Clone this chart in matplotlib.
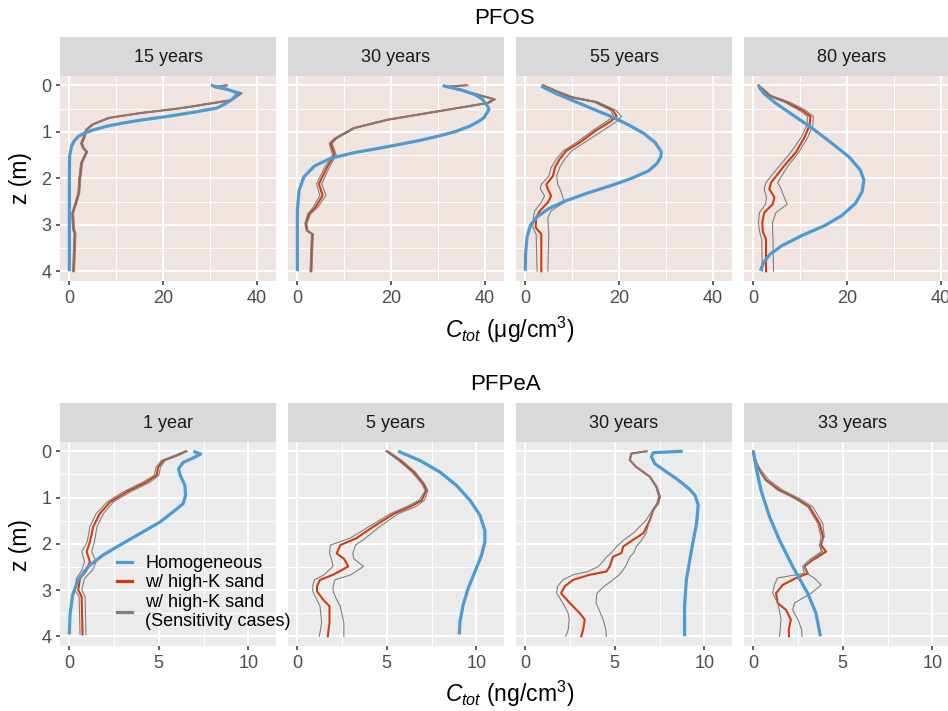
import matplotlib
matplotlib.use("Agg")
import matplotlib.pyplot as plt
from matplotlib.lines import Line2D

plt.rcParams["font.family"] = ["Liberation Sans", "DejaVu Sans"]
plt.rcParams["mathtext.fontset"] = "custom"
plt.rcParams["mathtext.rm"] = "Liberation Sans"
plt.rcParams["mathtext.it"] = "Liberation Sans:italic"

# ---------------- data (z in m, concentration per panel) ----------------
# PFOS, 15 years
pfos15_zb = [0, 0.08, 0.17, 0.3, 0.4, 0.49, 0.58, 0.67, 0.74, 0.81, 0.88, 0.96, 1.03, 1.1, 1.2, 1.32,
             1.53, 2.0, 4.0]
pfos15_blue = [30.2, 33.5, 36.0, 34.8, 33.2, 31.5, 26.5, 20.9, 15.8, 11.5, 8.0, 5.1, 3.2, 1.9, 1.0, 0.45,
               0.05, 0.0, 0.0]
pfos15_zk = [0, 0.04, 0.1, 0.17, 0.32, 0.49, 0.6, 0.7, 0.84, 0.96, 1.1, 1.25, 1.35, 1.43, 1.67,
             2.03, 2.32, 2.53, 2.75, 2.95, 3.1, 3.18, 4.0]
pfos15_red = [33.5, 31.0, 34.0, 36.6, 34.5, 24.0, 15.0, 8.5, 5.0, 3.6, 3.2, 2.6, 3.0, 3.7, 2.6,
              2.2, 2.0, 1.4, 0.7, 0.8, 0.9, 1.2, 0.9]
pfos15_gray_hi = [33.0, 30.8, 34.3, 36.9, 34.8, 24.5, 15.4, 8.8, 5.2, 3.8, 3.4, 2.8, 3.2, 3.9, 2.8,
                  2.4, 2.2, 1.6, 0.9, 1.0, 1.1, 1.4, 1.1]
pfos15_gray_lo = [33.8, 31.2, 33.8, 36.4, 34.2, 23.6, 14.6, 8.2, 4.8, 3.4, 3.0, 2.4, 2.8, 3.5, 2.4,
                  2.0, 1.8, 1.2, 0.5, 0.6, 0.7, 1.0, 0.7]

# PFOS, 30 years
pfos30_zb = [0, 0.02, 0.1, 0.2, 0.3, 0.45, 0.52, 0.6, 0.7, 0.78, 0.88, 1.0, 1.09, 1.18, 1.32, 1.45,
             1.57, 1.74, 1.97, 2.26, 2.7, 4.0]
pfos30_blue = [31.0, 31.5, 35.0, 37.9, 39.5, 40.6, 40.9, 40.4, 39.8, 38.6, 36.8, 33.6, 30.2, 26.4,
               19.3, 12.1, 7.1, 3.6, 1.4, 0.36, 0.0, 0.0]
pfos30_zk = [0, 0.03, 0.12, 0.3, 0.38, 0.56, 0.74, 0.92, 1.14, 1.25, 1.5, 1.75, 2.12, 2.37, 2.62,
             2.77, 2.98, 3.13, 3.2, 4.0]
pfos30_red = [36.0, 31.8, 35.5, 42.0, 40.7, 30.0, 19.3, 12.1, 8.2, 7.1, 7.9, 6.4, 4.6, 5.4, 3.9,
              2.5, 1.8, 2.1, 3.2, 2.9]
pfos30_gray_hi = [36.5, 32.0, 35.8, 42.3, 41.0, 30.4, 19.7, 12.4, 8.5, 7.4, 8.3, 6.9, 5.2, 6.1, 4.4,
                  2.8, 2.0, 2.3, 3.4, 3.1]
pfos30_gray_lo = [35.5, 31.5, 35.2, 41.7, 40.4, 29.6, 18.9, 11.8, 7.9, 6.8, 7.5, 5.9, 4.1, 4.8, 3.4,
                  2.2, 1.6, 1.9, 3.0, 2.7]

# PFOS, 55 years
pfos55_zb = [0.02, 0.17, 0.32, 0.5, 0.68, 0.85, 1.03, 1.23, 1.43, 1.54, 1.68, 1.84, 2.0, 2.15, 2.31,
             2.49, 2.65, 2.83, 3.01, 3.26, 3.63, 3.99]
pfos55_blue = [3.4, 6.4, 9.9, 14.2, 18.5, 22.0, 25.2, 27.7, 29.0, 28.9, 28.1, 26.3, 22.7, 18.5, 13.5,
               8.5, 5.0, 2.5, 1.1, 0.36, 0.05, 0.0]
pfos55_zk = [0.0, 0.25, 0.36, 0.54, 0.67, 0.79, 0.97, 1.23, 1.41, 1.59, 1.77, 1.95, 2.13, 2.23, 2.38,
             2.52, 2.7, 2.85, 3.06, 3.2, 4.0]
pfos55_red = [3.8, 9.4, 15.1, 18.7, 19.5, 18.0, 15.1, 11.6, 8.7, 7.3, 6.3, 5.9, 4.5, 4.8, 5.5,
              4.8, 3.1, 2.3, 2.2, 3.4, 3.4]
pfos55_gray_hi = [3.6, 10.2, 15.5, 19.4, 20.5, 19.3, 16.6, 12.6, 9.9, 8.4, 7.3, 6.7, 6.9, 7.4, 7.9,
                  8.3, 5.5, 4.8, 4.9, 5.0, 4.8]
pfos55_gray_lo = [3.5, 8.9, 14.6, 18.2, 18.9, 17.1, 14.4, 10.9, 8.1, 6.6, 5.5, 5.0, 3.4, 3.2, 4.1,
                  3.4, 2.0, 1.7, 1.6, 2.3, 2.5]

# PFOS, 80 years
pfos80_zb = [0.02, 0.17, 0.38, 0.63, 0.92, 1.25, 1.54, 1.82, 2.04, 2.29, 2.54, 2.8, 3.01, 3.23, 3.45,
             3.63, 3.81, 3.99]
pfos80_blue = [1.1, 2.2, 4.7, 8.3, 12.5, 16.8, 20.4, 22.8, 23.6, 23.2, 21.8, 18.9, 15.4, 10.4, 6.1,
               3.6, 2.2, 1.5]
pfos80_zk = [0.0, 0.22, 0.36, 0.54, 0.67, 0.86, 1.12, 1.44, 1.73, 1.91, 2.09, 2.23, 2.41, 2.56,
             2.74, 2.95, 3.14, 3.32, 4.0]
pfos80_red = [1.1, 3.4, 7.0, 10.5, 12.2, 12.0, 10.9, 9.1, 6.6, 5.2, 3.8, 3.4, 4.5, 4.1,
              2.3, 1.9, 2.0, 2.7, 2.7]
pfos80_gray_hi = [1.2, 3.8, 7.7, 11.2, 12.8, 12.7, 11.6, 9.7, 7.4, 6.3, 5.2, 5.9, 6.6, 7.2,
                  4.8, 4.1, 4.1, 4.2, 4.3]
pfos80_gray_lo = [1.0, 3.0, 6.6, 9.8, 11.6, 11.4, 10.2, 8.0, 5.6, 4.1, 2.7, 2.3, 2.8, 2.6,
                  1.3, 1.1, 1.3, 1.8, 1.9]

# PFPeA, 1 year
pfpea1_zb = [0.0, 0.06, 0.13, 0.24, 0.38, 0.52, 0.74, 0.95, 1.13, 1.31, 1.53, 1.74, 1.99, 2.24, 2.49,
             2.78, 3.1, 3.53, 3.96]
pfpea1_blue = [6.93, 7.34, 7.0, 6.37, 6.1, 6.2, 6.46, 6.5, 6.37, 5.8, 5.07, 4.13, 3.0, 1.9, 1.06,
               0.5, 0.19, 0.04, 0.0]
pfpea1_zk = [0.0, 0.09, 0.2, 0.34, 0.52, 0.67, 0.88, 1.1, 1.35, 1.63, 1.96, 2.17, 2.39, 2.57,
             2.75, 3.0, 3.14, 3.96]
pfpea1_red = [6.52, 6.0, 5.25, 4.97, 4.88, 4.3, 3.2, 2.27, 1.7, 1.34, 1.15, 0.97, 1.15, 0.97,
              0.6, 0.5, 0.69, 0.74]
pfpea1_gray_hi = [6.6, 6.1, 5.35, 5.1, 5.0, 4.5, 3.4, 2.45, 1.9, 1.55, 1.4, 1.25, 1.5, 1.3,
                  0.85, 0.7, 0.88, 0.93]
pfpea1_gray_lo = [6.45, 5.9, 5.15, 4.85, 4.75, 4.1, 3.0, 2.1, 1.5, 1.15, 1.0, 0.7, 0.85, 0.7,
                  0.4, 0.3, 0.55, 0.6]

# PFPeA, 5 years
pfpea5_zb = [0.0, 0.2, 0.45, 0.74, 1.06, 1.38, 1.71, 1.96, 2.24, 2.6, 2.96, 3.32, 3.68, 3.96]
pfpea5_blue = [5.64, 6.85, 7.97, 8.9, 9.65, 10.2, 10.48, 10.48, 10.3, 9.93, 9.55, 9.27, 9.09, 9.05]
pfpea5_zk = [0.0, 0.2, 0.45, 0.7, 0.85, 1.06, 1.2, 1.35, 1.63, 1.88, 2.03, 2.21, 2.32, 2.49,
             2.67, 2.78, 2.92, 3.03, 3.21, 3.35, 3.71, 4.0]
pfpea5_red = [5.0, 5.75, 6.5, 7.05, 7.2, 6.95, 6.3, 5.4, 4.25, 3.3, 2.4, 2.2, 2.6, 2.85,
              2.0, 1.27, 1.1, 1.1, 1.45, 1.8, 1.8, 1.7]
pfpea5_gray_hi = [5.1, 5.85, 6.6, 7.1, 7.3, 7.1, 6.6, 5.65, 4.6, 3.8, 3.25, 3.1, 3.15, 3.7,
                  3.0, 2.1, 2.0, 2.0, 2.2, 2.4, 2.6, 2.6]
pfpea5_gray_lo = [4.95, 5.65, 6.4, 6.95, 7.15, 6.8, 6.1, 5.2, 4.0, 2.95, 1.85, 1.8, 1.9, 2.0,
                  1.5, 0.95, 0.86, 0.86, 1.1, 1.27, 1.36, 1.23]

# PFPeA, 30 years
pfpea30_zb = [0.0, 0.03, 0.12, 0.27, 0.45, 0.58, 0.7, 0.83, 0.95, 1.16, 1.56, 2.13, 2.78, 3.35, 4.0]
pfpea30_blue = [8.8, 7.15, 7.05, 7.24, 7.9, 8.4, 8.8, 9.2, 9.48, 9.66, 9.57, 9.29, 9.0, 8.9, 8.9]
pfpea30_zk = [0.0, 0.05, 0.19, 0.34, 0.55, 0.77, 0.98, 1.13, 1.27, 1.49, 1.77, 1.92, 2.06, 2.2,
              2.28, 2.49, 2.6, 2.67, 2.78, 2.92, 3.07, 3.28, 3.5, 3.64, 3.86, 4.0]
pfpea30_red = [6.77, 5.93, 5.84, 6.2, 6.96, 7.33, 7.5, 7.4, 7.15, 6.96, 6.6, 6.0, 5.47, 5.37,
               4.9, 4.72, 4.53, 3.6, 2.67, 2.2, 2.0, 2.48, 3.04, 3.32, 3.23, 3.13]
pfpea30_gray_hi = [6.8, 5.95, 5.86, 6.22, 6.98, 7.36, 7.55, 7.45, 7.15, 6.95, 6.75, 6.5, 6.2, 6.05,
                   5.85, 5.6, 5.4, 5.25, 4.9, 4.4, 4.0, 3.95, 4.2, 4.35, 4.5, 4.53]
pfpea30_gray_lo = [6.75, 5.9, 5.82, 6.18, 6.94, 7.3, 7.45, 7.35, 7.1, 6.75, 6.03, 5.5, 5.1, 4.8,
                   4.55, 4.1, 3.5, 2.67, 2.1, 1.8, 1.75, 2.1, 2.39, 2.45, 2.4, 2.26]

# PFPeA, 33 years
pfpea33_zb = [0.0, 0.34, 0.84, 1.41, 1.92, 2.49, 3.07, 3.5, 4.0]
pfpea33_blue = [0.0, 0.15, 0.43, 0.9, 1.46, 2.2, 3.04, 3.5, 3.75]
pfpea33_zk = [0.0, 0.19, 0.41, 0.62, 0.84, 1.02, 1.2, 1.56, 1.85, 2.03, 2.17, 2.35, 2.49, 2.64,
              2.74, 2.89, 3.07, 3.28, 3.43, 3.64, 3.86, 4.0]
pfpea33_red = [0.0, 0.06, 0.34, 0.7, 1.46, 2.39, 3.13, 3.7, 3.9, 3.79, 4.07, 3.32, 2.85, 3.04,
               2.39, 1.64, 1.27, 1.36, 1.83, 2.1, 1.98, 2.0]
pfpea33_gray_hi = [0.0, 0.1, 0.43, 0.86, 1.64, 2.57, 3.32, 3.88, 3.97, 3.7, 3.88, 3.23, 2.85, 3.0,
                   3.4, 3.79, 3.23, 2.3, 2.2, 2.5, 2.7, 2.72]
pfpea33_gray_lo = [0.0, 0.15, 0.34, 0.65, 1.36, 2.3, 3.04, 3.6, 3.79, 3.7, 3.8, 3.13, 2.76, 2.85,
                   1.35, 1.18, 1.08, 1.36, 1.45, 1.55, 1.5, 1.46]

pfos_labels = ["15 years", "30 years", "55 years", "80 years"]
pfpea_labels = ["1 year", "5 years", "30 years", "33 years"]
legend_labels = ["Homogeneous", "w/ high-K sand", "w/ high-K sand\n(Sensitivity cases)"]

pfos_panels = [
    (pfos15_zb, pfos15_blue, pfos15_zk, pfos15_red, pfos15_gray_lo, pfos15_gray_hi),
    (pfos30_zb, pfos30_blue, pfos30_zk, pfos30_red, pfos30_gray_lo, pfos30_gray_hi),
    (pfos55_zb, pfos55_blue, pfos55_zk, pfos55_red, pfos55_gray_lo, pfos55_gray_hi),
    (pfos80_zb, pfos80_blue, pfos80_zk, pfos80_red, pfos80_gray_lo, pfos80_gray_hi),
]
pfpea_panels = [
    (pfpea1_zb, pfpea1_blue, pfpea1_zk, pfpea1_red, pfpea1_gray_lo, pfpea1_gray_hi),
    (pfpea5_zb, pfpea5_blue, pfpea5_zk, pfpea5_red, pfpea5_gray_lo, pfpea5_gray_hi),
    (pfpea30_zb, pfpea30_blue, pfpea30_zk, pfpea30_red, pfpea30_gray_lo, pfpea30_gray_hi),
    (pfpea33_zb, pfpea33_blue, pfpea33_zk, pfpea33_red, pfpea33_gray_lo, pfpea33_gray_hi),
]

BLUE = "#4C9BD5"
RED = "#D23C0C"
GRAY = "#808080"

W, H = 948, 711
fig = plt.figure(figsize=(W / 100, H / 100), dpi=100)


def box(x, y, w, h):
    # pixel box measured from the top-left corner
    return [x / W, 1 - (y + h) / H, w / W, h / H]


def draw_row(panels, labels, strip_y, panel_y, panel_h, bg, xlim, xmajor, xminor):
    axes = []
    for i, (zb, blue, zk, red, glo, ghi) in enumerate(panels):
        left = 60 + i * 228
        strip = fig.add_axes(box(left, strip_y, 216, panel_y - strip_y))
        strip.set_facecolor("#D9D9D9")
        strip.set_xticks([])
        strip.set_yticks([])
        for s in strip.spines.values():
            s.set_visible(False)
        strip.text(0.5, 0.48, labels[i], ha="center", va="center", fontsize=13, color="#1A1A1A",
                   transform=strip.transAxes)

        ax = fig.add_axes(box(left, panel_y, 216, panel_h))
        ax.set_facecolor(bg)
        for s in ax.spines.values():
            s.set_visible(False)

        ax.plot(red, zk, color=RED, lw=1.5, zorder=3)
        ax.plot(glo, zk, color=GRAY, lw=0.8, zorder=4)
        ax.plot(ghi, zk, color=GRAY, lw=0.8, zorder=4)
        ax.plot(blue, zb, color=BLUE, lw=2.3, zorder=5, solid_capstyle="butt",
                solid_joinstyle="round")

        ax.set_xlim(*xlim)
        ax.set_ylim(4.21, -0.2)
        ax.set_xticks(xmajor)
        ax.set_xticks(xminor, minor=True)
        ax.set_yticks([0, 1, 2, 3, 4])
        ax.set_yticks([0.5, 1.5, 2.5, 3.5], minor=True)
        ax.grid(which="major", color="white", lw=1.4)
        ax.grid(which="minor", color="white", lw=0.7)
        ax.set_axisbelow(True)
        ax.tick_params(which="major", length=3.2, width=1.1, color="#333333",
                       labelsize=13, labelcolor="#4D4D4D", pad=3)
        ax.tick_params(which="minor", length=0)
        if i > 0:
            ax.tick_params(axis="y", left=False, labelleft=False)
        axes.append(ax)
    return axes


top_axes = draw_row(pfos_panels, pfos_labels, 37, 76, 205, "#EFE4E0",
                    (-2.0, 44.1), [0, 20, 40], [10, 30])
bot_axes = draw_row(pfpea_panels, pfpea_labels, 403, 442, 204, "#EBEBEB",
                    (-0.52, 11.55), [0, 5, 10], [2.5, 7.5])

fig.text(504 / W, 1 - 18 / H, "PFOS", ha="center", va="center", fontsize=16)
fig.text(505 / W, 1 - 385 / H, "PFPeA", ha="center", va="center", fontsize=16)
fig.text(510 / W, 1 - 330 / H, r"$C_{tot}$ (μg/cm$^3$)", ha="center", va="center", fontsize=16.5)
fig.text(510 / W, 1 - 694 / H, r"$C_{tot}$ (ng/cm$^3$)", ha="center", va="center", fontsize=16.5)
fig.text(20 / W, 1 - 178 / H, "z (m)", ha="center", va="center", rotation=90, fontsize=16.5)
fig.text(20 / W, 1 - 545 / H, "z (m)", ha="center", va="center", rotation=90, fontsize=16.5)

# legend sits in the first lower panel; its last line runs over into the gap
bot_axes[0].set_zorder(10)
handles = [Line2D([], [], color=BLUE, lw=2.3),
           Line2D([], [], color=RED, lw=2.3),
           Line2D([], [], color=GRAY, lw=2.3)]
bot_axes[0].legend(handles, legend_labels, loc="upper left", bbox_to_anchor=(0.262, 0.445),
                   frameon=False, fontsize=13, handlelength=0.85, handletextpad=0.75,
                   labelspacing=0.12, borderpad=0, borderaxespad=0)

fig.savefig("out.png", dpi=100)
